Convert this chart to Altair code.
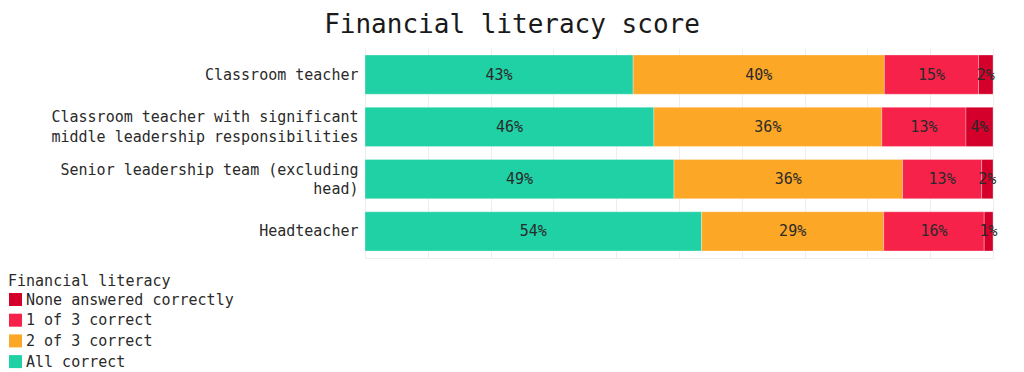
import json
import altair as alt
import pandas as pd

FONT = "DejaVu Sans Mono"

roles = [
    "Classroom teacher",
    "Classroom teacher with significant middle leadership responsibilities",
    "Senior leadership team (excluding head)",
    "Headteacher",
]
role_lines = [
    ["Classroom teacher"],
    ["Classroom teacher with significant", "middle leadership responsibilities"],
    ["Senior leadership team (excluding", "head)"],
    ["Headteacher"],
]
levels = ["All correct", "2 of 3 correct", "1 of 3 correct", "None answered correctly"]
all_correct = [42.7, 46.0, 49.2, 53.6]
two_of_three = [40.0, 36.3, 36.4, 29.0]
one_of_three = [15.0, 13.4, 12.6, 16.0]
none_correct = [2.3, 4.3, 1.8, 1.4]
level_colors = ["#1fd1a5", "#fda726", "#f7224a", "#d4002b"]

series = [all_correct, two_of_three, one_of_three, none_correct]
rows = []
for li, (lvl, vals) in enumerate(zip(levels, series)):
    for role, v in zip(roles, vals):
        rows.append({"role": role, "level": lvl, "value": v, "order": li})
df = pd.DataFrame(rows)

legend_order = levels[::-1]
legend_colors = level_colors[::-1]

label_map = {r: lines for r, lines in zip(roles, role_lines)}
label_expr = json.dumps(label_map) + "[datum.label] || datum.label"
multi = [r for r, lines in zip(roles, role_lines) if len(lines) > 1]
multi_test = "indexof(" + json.dumps(multi) + ", datum.value) >= 0"

base = alt.Chart(df).transform_stack(
    stack="value", groupby=["role"], as_=["x0", "x1"], sort=[alt.SortField("order")]
)

y_enc = alt.Y(
    "role:N",
    sort=roles,
    scale=alt.Scale(paddingInner=0.25, paddingOuter=0.134),
    axis=alt.Axis(
        title=None,
        domain=False,
        ticks=False,
        grid=False,
        labelFont=FONT,
        labelFontSize=15,
        labelColor="#2a2a2a",
        labelPadding=7,
        labelLimit=500,
        labelLineHeight=19.5,
        labelExpr=label_expr,
        labelOffset={"condition": {"test": multi_test, "value": -9.5}, "value": 0},
    ),
)

bars = base.mark_bar(stroke="white", strokeWidth=0.5, strokeOpacity=0.6).encode(
    y=y_enc,
    x=alt.X(
        "x0:Q",
        scale=alt.Scale(domain=[0, 100], nice=False),
        axis=alt.Axis(
            title=None,
            labels=False,
            ticks=False,
            domain=True,
            domainColor="#eeeeee",
            grid=True,
            gridColor="#eeeeee",
            values=list(range(0, 101, 10)),
        ),
    ),
    x2="x1:Q",
    color=alt.Color(
        "level:N",
        scale=alt.Scale(domain=legend_order, range=legend_colors),
        legend=alt.Legend(
            title="Financial literacy",
            orient="none",
            legendX=-357,
            legendY=226,
            symbolType="square",
            symbolSize=169,
            symbolStrokeWidth=0,
            labelFont=FONT,
            labelFontSize=15,
            labelColor="#2a2a2a",
            labelLimit=500,
            titleFont=FONT,
            titleFontSize=15,
            titleFontWeight="normal",
            titleColor="#2a2a2a",
            titlePadding=3,
            rowPadding=4.7,
            labelOffset=3,
        ),
    ),
)

text = base.transform_calculate(
    mid="(datum.x0 + datum.x1) / 2",
    label="format(datum.value, '.0f') + '%'",
).mark_text(font=FONT, fontSize=15, color="#2a2a2a").encode(
    y=alt.Y("role:N", sort=roles),
    x=alt.X("mid:Q"),
    text="label:N",
)

chart = (
    alt.layer(bars, text)
    .properties(
        width=628,
        height=210,
        title=alt.TitleParams(
            "Financial literacy score",
            font=FONT,
            fontSize=26,
            fontWeight="normal",
            color="#1a1a1a",
            anchor="middle",
            dx=-167,
            offset=10,
        ),
        padding={"left": 0, "top": 4, "right": 5, "bottom": 0},
        autosize=alt.AutoSizeParams(type="pad"),
    )
    .configure_view(stroke=None)
)

chart.save("out.html", embed_options={"renderer": "svg", "actions": False})
